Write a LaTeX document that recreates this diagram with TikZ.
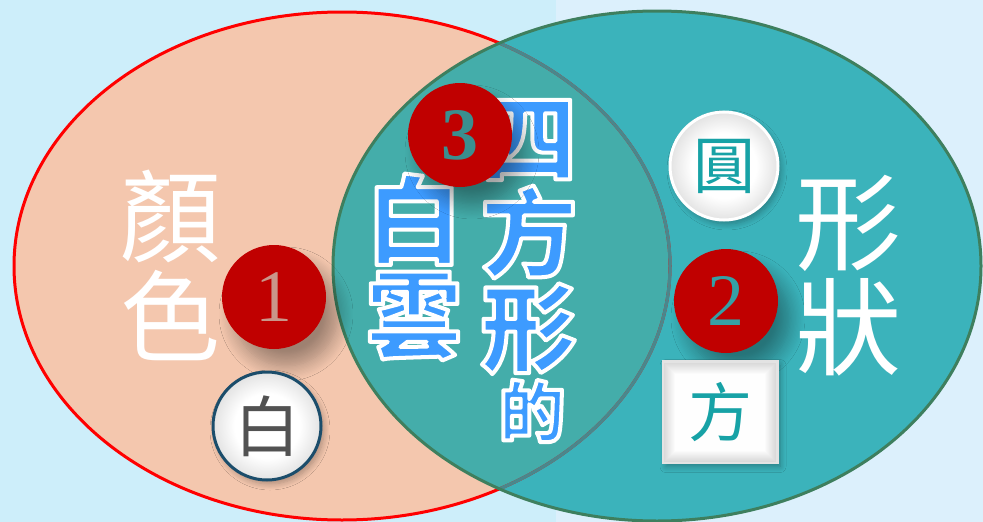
\documentclass[tikz,border=0pt]{standalone}
\usepackage{fontspec}
\newfontfamily\cjk{Noto Sans CJK TC}
\newfontfamily\numf{Liberation Serif}
\usetikzlibrary{shadows.blur}
\definecolor{bgL}{HTML}{CDEEFA}
\definecolor{bgR}{HTML}{DCF0FC}
\definecolor{peach}{HTML}{F4C7AE}
\definecolor{tealA}{HTML}{3BB3BB}
\definecolor{overlapC}{HTML}{44ADAA}
\definecolor{ringG}{HTML}{3E7F5E}
\definecolor{ringIn}{HTML}{4A878C}
\definecolor{badge}{HTML}{C00000}
\definecolor{blueT}{HTML}{3D9BFF}
\definecolor{tealT}{HTML}{17A2A6}
\definecolor{ringB}{HTML}{1B4D6B}
\definecolor{numA}{HTML}{C9968A}
\definecolor{numB}{HTML}{35A0A6}
\definecolor{numC}{HTML}{3A8F8F}
\pgfdeclareradialshading{glossy}{\pgfpoint{0bp}{0bp}}{color(0bp)=(white); color(15bp)=(white); color(24bp)=(gray!20); color(30bp)=(gray!42); color(35bp)=(gray!65); color(50bp)=(gray!65)}
\newcommand\strk[1]{\special{pdf:literal direct 1 1 1 RG 4 w 1 j 2 Tr}#1\special{pdf:literal direct 0 Tr}}
\tikzset{
  badgecirc/.style={circle, fill=badge, minimum size=104pt, inner sep=0,
    blur shadow={shadow xshift=12pt, shadow yshift=-17pt, shadow blur radius=15pt, shadow blur steps=12, shadow opacity=35}},
  glosscirc/.style={circle, line width=3pt, minimum size=108pt, inner sep=0, shading=glossy},
  smallshadow/.style={blur shadow={shadow xshift=3pt, shadow yshift=-4pt, shadow blur radius=6pt, shadow blur steps=8, shadow opacity=30}},
  bluetext/.style={text=blueT, align=center, inner sep=0},
  whitetext/.style={text=white, align=center, inner sep=0},
}
\begin{document}
\begin{tikzpicture}[x=1pt,y=-1pt]
\useasboundingbox (0,0) rectangle (983,522);
\fill[bgL] (0,0) rectangle (556,522);
\fill[bgR] (556,0) rectangle (983,522);
% ellipses
\fill[peach] (342,266) ellipse [x radius=328pt, y radius=254pt];
\fill[tealA] (657,266) ellipse [x radius=324pt, y radius=255pt];
\begin{scope}
  \clip (342,266) ellipse [x radius=328pt, y radius=254pt];
  \fill[overlapC] (657,266) ellipse [x radius=324pt, y radius=255pt];
\end{scope}
\draw[red, line width=3pt] (342,266) ellipse [x radius=328pt, y radius=254pt];
\begin{scope}
  \clip (657,266) ellipse [x radius=324pt, y radius=255pt];
  \draw[ringIn, line width=3.2pt] (342,266) ellipse [x radius=328pt, y radius=254pt];
\end{scope}
\draw[ringG, line width=3pt] (657,266) ellipse [x radius=324pt, y radius=255pt];

% left group
\node[whitetext, font=\cjk\fontsize{100}{100}\selectfont] (yanse) at (170,265) {顏\\色};
\node[badgecirc, font=\numf\fontsize{74}{74}\selectfont, text=numA] (n1) at (274,297) {1};
\node[glosscirc, draw=ringB, smallshadow, font=\cjk\fontsize{66}{66}\selectfont, text=black!68] (bai) at (267,426) {白};

% middle group
\node[bluetext, font=\cjk\bfseries\fontsize{96}{95}\selectfont] (baiyun) at (414,267) {\strk{白}\\\strk{雲}};
\node[bluetext, font=\cjk\bfseries\fontsize{96}{95}\selectfont] (sifang) at (529,237) {\strk{四}\\\strk{方}\\\strk{形}};
\node[bluetext, font=\cjk\bfseries\fontsize{66}{66}\selectfont] (de) at (532,411) {\strk{的}};
\node[badgecirc, font=\numf\bfseries\fontsize{74}{74}\selectfont, text=numC] (n3) at (460,135) {3};

% right group
\node[glosscirc, draw=white, smallshadow, font=\cjk\fontsize{62}{62}\selectfont, text=tealT] (yuan) at (724,166) {圓};
\node[badgecirc, font=\numf\fontsize{74}{74}\selectfont, text=numB] (n2) at (726,301) {2};
\node[draw=gray!22, line width=3pt, fill=gray!32, minimum width=114pt, minimum height=101pt, inner sep=0, smallshadow] (sq) at (720,412) {};
\foreach \i in {1,...,12} {
  \pgfmathsetmacro\c{32-2.6*\i}
  \fill[gray!\c] (663+\i,362+\i) rectangle (777-\i,463-\i);
}
\node[font=\cjk\fontsize{64}{64}\selectfont, text=tealT, inner sep=0] (fang) at (sq.center) {方};
\node[whitetext, font=\cjk\fontsize{106}{105}\selectfont] (xingzhuang) at (848,276) {形\\狀};
\end{tikzpicture}
\end{document}
